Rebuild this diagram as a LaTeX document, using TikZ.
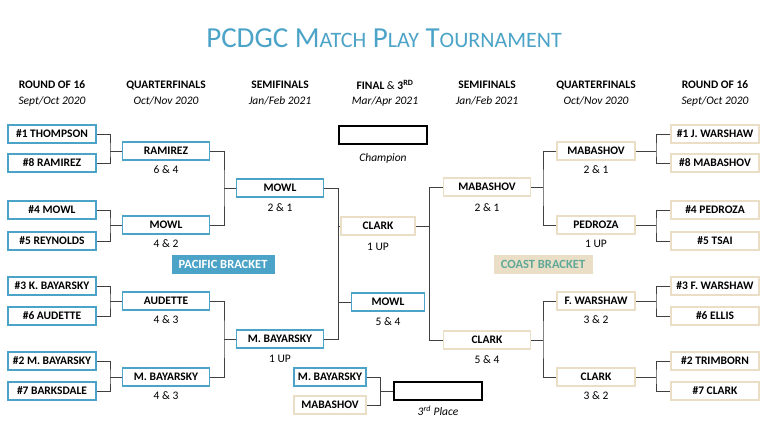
\documentclass[tikz,border=0pt]{standalone}
\usepackage{fontspec}
\setmainfont{Carlito}
\begin{document}
\begin{tikzpicture}[x=1pt,y=-1pt,
  every node/.style={font=\fontsize{11.5}{13}\selectfont},
  bb/.style={draw=bblue,line width=1.5pt,minimum height=18pt,inner sep=0pt,font=\fontsize{11.5}{13}\selectfont\bfseries},
  cb/.style={draw=cbeige,line width=1.5pt,minimum height=18pt,inner sep=0pt,font=\fontsize{11.5}{13}\selectfont\bfseries},
  kb/.style={draw=black,line width=1.5pt,minimum height=18pt,minimum width=88pt,inner sep=0pt},
  ln/.style={draw=black!75,line width=0.9pt},
  hd/.style={font=\fontsize{11.5}{13}\selectfont\bfseries},
  sd/.style={font=\fontsize{11.5}{13}\selectfont\itshape},
  sc/.style={font=\fontsize{11.5}{13}\selectfont}]
\definecolor{bblue}{HTML}{4BA3C7}
\definecolor{cbeige}{HTML}{EADFC6}
\definecolor{cteal}{HTML}{5FA898}
\useasboundingbox (0,0) rectangle (768,431);
\node[text=bblue,font=\fontsize{29}{32}\selectfont] (title) at (384,38) {PCDGC M{\fontsize{22}{24}\selectfont ATCH} P{\fontsize{22}{24}\selectfont LAY} T{\fontsize{22}{24}\selectfont OURNAMENT}};
% headers
\foreach \x/\a/\b [count=\i] in {52/ROUND OF 16/Sept\slash Oct 2020,166/QUARTERFINALS/Oct\slash Nov 2020,280/SEMIFINALS/Jan\slash Feb 2021,487/SEMIFINALS/Jan\slash Feb 2021,596/QUARTERFINALS/Oct\slash Nov 2020,715/ROUND OF 16/Sept\slash Oct 2020}{
  \node[hd] (h\i) at (\x,85) {\a};
  \node[sd] (d\i) at (\x,101) {\b};}
\node[hd] (hf) at (385,85) {FINAL {\normalfont\&} 3\textsuperscript{RD}};
\node[sd] (df) at (385,101) {Mar/Apr 2021};
% left R16
\foreach \n/\y/\t in {l1/134/\#1 THOMPSON,l8/163/\#8 RAMIREZ,l4/210/\#4 MOWL,l5/241/\#5 REYNOLDS,l3/286/\#3 K. BAYARSKY,l6/316/\#6 AUDETTE,l2/361/\#2 M. BAYARSKY,l7/391/\#7 BARKSDALE}
  \node[bb,minimum width=88pt] (\n) at (52,\y) {\t};
\foreach \n/\y/\t in {r1/134/\#1 J. WARSHAW,r8/163/\#8 MABASHOV,r4/210/\#4 PEDROZA,r5/241/\#5 TSAI,r3/286/\#3 F. WARSHAW,r6/316/\#6 ELLIS,r2/361/\#2 TRIMBORN,r7/391/\#7 CLARK}
  \node[cb,minimum width=88pt] (\n) at (715,\y) {\t};
% QF
\foreach \n/\y/\t/\s in {lq1/151/RAMIREZ/6 \& 4,lq2/225/MOWL/4 \& 2,lq3/301/AUDETTE/4 \& 3,lq4/377/M. BAYARSKY/4 \& 3}{
  \node[bb,minimum width=87pt] (\n) at (166,\y) {\t};
  \node[sc] (\n s) at (166,\y+19) {\s};}
\foreach \n/\y/\t/\s in {rq1/151/MABASHOV/2 \& 1,rq2/225/PEDROZA/1 UP,rq3/301/F. WARSHAW/3 \& 2,rq4/377/CLARK/3 \& 2}{
  \node[cb,minimum width=78pt] (\n) at (596,\y) {\t};
  \node[sc] (\n s) at (596,\y+19) {\s};}
% SF
\node[bb,minimum width=87pt] (ls1) at (280,188) {MOWL};
\node[sc] (ls1s) at (280,208) {2 \& 1};
\node[bb,minimum width=87pt] (ls2) at (280,339) {M. BAYARSKY};
\node[sc] (ls2s) at (280,359) {1 UP};
\node[cb,minimum width=87pt] (rs1) at (487,187) {MABASHOV};
\node[sc] (rs1s) at (487,208) {2 \& 1};
\node[cb,minimum width=87pt] (rs2) at (487,340) {CLARK};
\node[sc] (rs2s) at (487,360) {5 \& 4};
% final
\node[cb,minimum width=74pt] (fc) at (378,226) {CLARK};
\node[sc] (fcs) at (378,247) {1 UP};
\node[bb,minimum width=73pt] (fm) at (388,302) {MOWL};
\node[sc] (fms) at (388,322) {5 \& 4};
\node[kb] (champ) at (383,135) {};
\node[sd] (champl) at (383,158) {Champion};
% third
\node[bb,minimum width=72pt] (t1) at (330,377) {M. BAYARSKY};
\node[cb,minimum width=72pt] (t2) at (330,405) {MABASHOV};
\node[kb] (third) at (438,391) {};
\node[sd] (thirdl) at (438,411) {3\textsuperscript{rd} Place};
% bracket labels
\node[fill=bblue,text=white,minimum width=103pt,minimum height=19pt,inner sep=0pt,font=\fontsize{12.5}{14}\selectfont\bfseries] (pac) at (223,264) {PACIFIC BRACKET};
\node[fill=cbeige,text=cteal,minimum width=99pt,minimum height=19pt,inner sep=0pt,font=\fontsize{12.5}{14}\selectfont\bfseries] (coa) at (543,264) {COAST BRACKET};
% connectors left
\foreach \a/\b/\c in {l1/l8/lq1,l4/l5/lq2,l3/l6/lq3,l2/l7/lq4}{
  \draw[ln] (\a.east) -| (110,0 |- \c.west) |- (\b.east);
  \draw[ln] (110,0 |- \c.west) -- (\c.west);}
\foreach \a/\b/\c in {lq1/lq2/ls1,lq3/lq4/ls2}{
  \draw[ln] (\a.east) -| (224,0 |- \c.west) |- (\b.east);
  \draw[ln] (224,0 |- \c.west) -- (\c.west);}
\foreach \a/\b/\c in {r1/r8/rq1,r4/r5/rq2,r3/r6/rq3,r2/r7/rq4}{
  \draw[ln] (\a.west) -| (656,0 |- \c.east) |- (\b.west);
  \draw[ln] (656,0 |- \c.east) -- (\c.east);}
\foreach \a/\b/\c in {rq1/rq2/rs1,rq3/rq4/rs2}{
  \draw[ln] (\a.west) -| (543,0 |- \c.east) |- (\b.west);
  \draw[ln] (543,0 |- \c.east) -- (\c.east);}
\draw[ln] (ls1.east) -| (338,0 |- ls2.east) -- (ls2.east);
\draw[ln] (338,0 |- fc.west) -- (fc.west);
\draw[ln] (338,0 |- fm.west) -- (fm.west);
\draw[ln] (rs1.west) -| (429,0 |- rs2.west) -- (rs2.west);
\draw[ln] (fc.east) -- (429,0 |- fc.east);
\draw[ln] (t1.east) -| (380,0 |- t2.east) -- (t2.east);
\draw[ln] (380,0 |- third.west) -- (third.west);
\end{tikzpicture}
\end{document}
